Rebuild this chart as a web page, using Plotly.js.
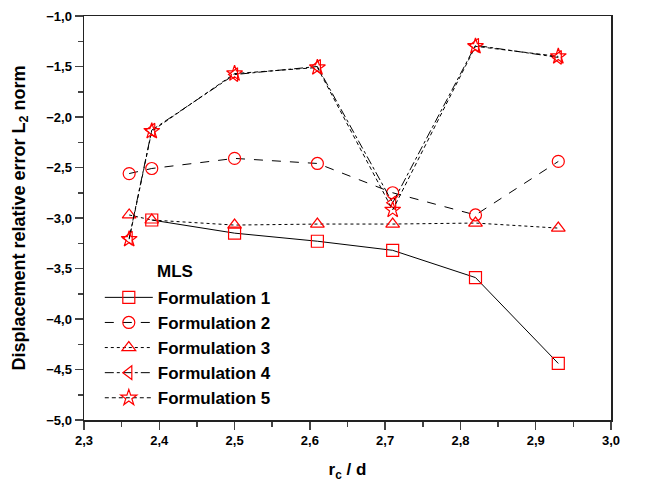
<!DOCTYPE html>
<html><head><meta charset="utf-8">
<script src="https://cdn.plot.ly/plotly-3.0.1.min.js"></script>
<style>html,body{margin:0;padding:0;background:#fff}#chart{width:647px;height:491px}</style>
</head><body><div id="chart"></div>
<script>
const xAll = [2.36, 2.39, 2.5, 2.61, 2.71, 2.82, 2.93];
const x1 = [2.39, 2.5, 2.61, 2.71, 2.82, 2.93];
const f1 = [-3.02, -3.15, -3.23, -3.32, -3.59, -4.44];
const f2 = [-2.56, -2.51, -2.41, -2.46, -2.75, -2.97, -2.44];
const f3 = [-2.97, -3.02, -3.07, -3.06, -3.06, -3.05, -3.10];
const f4 = [-3.20, -2.13, -1.58, -1.50, -2.85, -1.29, -1.41];
const f5 = [-3.21, -2.14, -1.57, -1.51, -2.92, -1.30, -1.40];
const names = ['Formulation 1','Formulation 2','Formulation 3','Formulation 4','Formulation 5'];

const red = '#ff0000';
const FF = 'Liberation Sans, Arial, sans-serif';
function tr(x, y, name, symbol, dash, grp){
  return {x:x, y:y, name:name, type:'scatter', mode:'lines+markers', legendgroup:grp,
    line:{color:'#000', width:1, dash:dash},
    marker:{symbol:symbol, size:12, color:red, line:{width:1.2, color:red}}};
}
const data = [
  tr(x1, f1, names[0], 'square-open', 'solid', 'g1'),
  tr(xAll, f2, names[1], 'circle-open', 'dash', 'g2'),
  tr(xAll, f3, names[2], 'triangle-up-open', 'dot', 'g3'),
  tr(xAll, f4, names[3], 'triangle-left-open', 'dashdot', 'g4'),
  tr(xAll, f5, names[4], 'star-open', '4px,3px', 'g5')
];
const tickFont = {family:FF, size:13, color:'#000', weight:'bold'};
const layout = {
  width:647, height:491,
  margin:{l:84, r:36, t:16, b:71},
  paper_bgcolor:'#fff', plot_bgcolor:'#fff',
  separators:',.',
  font:{family:FF, color:'#000'},
  showlegend:true,
  legend:{x:0.03, y:0.347, xanchor:'left', yanchor:'top', bgcolor:'rgba(0,0,0,0)',
    font:{family:FF, size:17, color:'#000', weight:'bold'},
    itemwidth:48, tracegroupgap:0},
  annotations:[{xref:'paper', yref:'paper', x:0.135, y:0.34, xanchor:'left', yanchor:'bottom', showarrow:false,
    text:'MLS', font:{family:FF, size:17, color:'#000', weight:'bold'}}],
  xaxis:{range:[2.3,3.0], dtick:0.1, tick0:2.3, tickformat:'.1f', ticks:'outside', ticklen:8, tickwidth:1.5,
    showline:true, linewidth:1.5, linecolor:'#222', mirror:true, showgrid:false, zeroline:false,
    tickfont:tickFont,
    minor:{ticks:'outside', dtick:0.05, ticklen:5, tickwidth:1.5, showgrid:false},
    title:{text:'r<sub>c</sub> / d', font:{family:FF, size:17, color:'#000', weight:'bold'}, standoff:16}},
  yaxis:{range:[-5.0,-1.0], dtick:0.5, tick0:-5, tickformat:'.1f', ticks:'outside', ticklen:8, tickwidth:1.5,
    showline:true, linewidth:1.5, linecolor:'#222', mirror:true, showgrid:false, zeroline:false,
    tickfont:tickFont,
    minor:{ticks:'outside', dtick:0.25, ticklen:5, tickwidth:1.5, showgrid:false},
    title:{text:'Displacement relative error L<sub>2</sub> norm', font:{family:FF, size:18, color:'#000', weight:'bold'}, standoff:16}}
};
Plotly.newPlot('chart', data, layout, {displayModeBar:false, staticPlot:true});
</script></body></html>
